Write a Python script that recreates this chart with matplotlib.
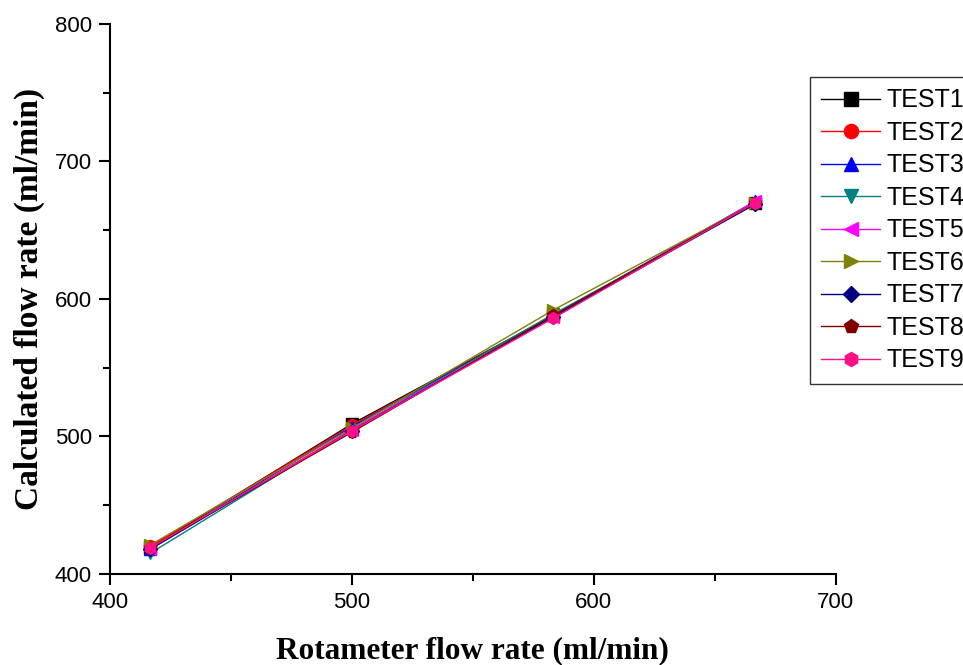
import matplotlib
matplotlib.use('Agg')
from matplotlib import pyplot as plt
from matplotlib.ticker import MultipleLocator
import numpy as np

# rotameter set points (ml/min)
rotameter = [416.7, 500.0, 583.3, 666.7]

test_names = ['TEST1', 'TEST2', 'TEST3', 'TEST4', 'TEST5',
              'TEST6', 'TEST7', 'TEST8', 'TEST9']

# calculated flow rate for each test run (ml/min)
test1 = [419, 509, 588, 670]
test2 = [420, 508, 588, 670]
test3 = [418, 507, 588, 671]
test4 = [415, 505, 589, 669]
test5 = [418, 505, 587, 671]
test6 = [421, 506, 592, 670]
test7 = [418, 504, 587, 669]
test8 = [419, 503, 588, 670]
test9 = [419, 504, 586, 670]
calculated = [test1, test2, test3, test4, test5, test6, test7, test8, test9]

colors = ['black', 'red', 'blue', '#008080', 'magenta',
          '#808000', '#000080', '#800000', '#FF1088']
markers = ['s', 'o', '^', 'v', '<', '>', 'D', 'p', 'h']

plt.rcParams['font.family'] = ['Liberation Sans', 'DejaVu Sans']

fig = plt.figure(figsize=(9.63, 6.65), dpi=100)
ax = fig.add_axes([0.114, 0.137, 0.754, 0.827])

for name, vals, c, m in zip(test_names, calculated, colors, markers):
    ms = 7 if m == 'D' else 8.5
    ax.plot(rotameter, vals, color=c, marker=m, markersize=ms,
            linewidth=1.0, label=name)

ax.set_xlim(400, 700)
ax.set_ylim(400, 800)
ax.xaxis.set_major_locator(MultipleLocator(100))
ax.xaxis.set_minor_locator(MultipleLocator(50))
ax.yaxis.set_major_locator(MultipleLocator(100))
ax.yaxis.set_minor_locator(MultipleLocator(50))

for side in ['top', 'right']:
    ax.spines[side].set_visible(False)
for side in ['left', 'bottom']:
    ax.spines[side].set_linewidth(1.5)

ax.tick_params(which='major', direction='out', length=8, width=1.5,
               labelsize=16, pad=5)
ax.tick_params(which='minor', direction='out', length=5, width=1.5)

ax.set_xlabel('Rotameter flow rate (ml/min)', fontsize=22.5, fontweight='bold',
              family='Liberation Serif', labelpad=17)
ax.set_ylabel('Calculated flow rate (ml/min)', fontsize=24, fontweight='bold',
              family='Liberation Serif', labelpad=7)

leg = fig.legend(loc='upper left', bbox_to_anchor=(0.841, 0.884),
                 fontsize=18, frameon=True, fancybox=False,
                 edgecolor='black', borderpad=0.45, labelspacing=0.34,
                 handlelength=2.35, handletextpad=0.25, borderaxespad=0,
                 markerscale=1.2)
leg.get_frame().set_linewidth(1.0)

plt.savefig('out.png', dpi=100)
